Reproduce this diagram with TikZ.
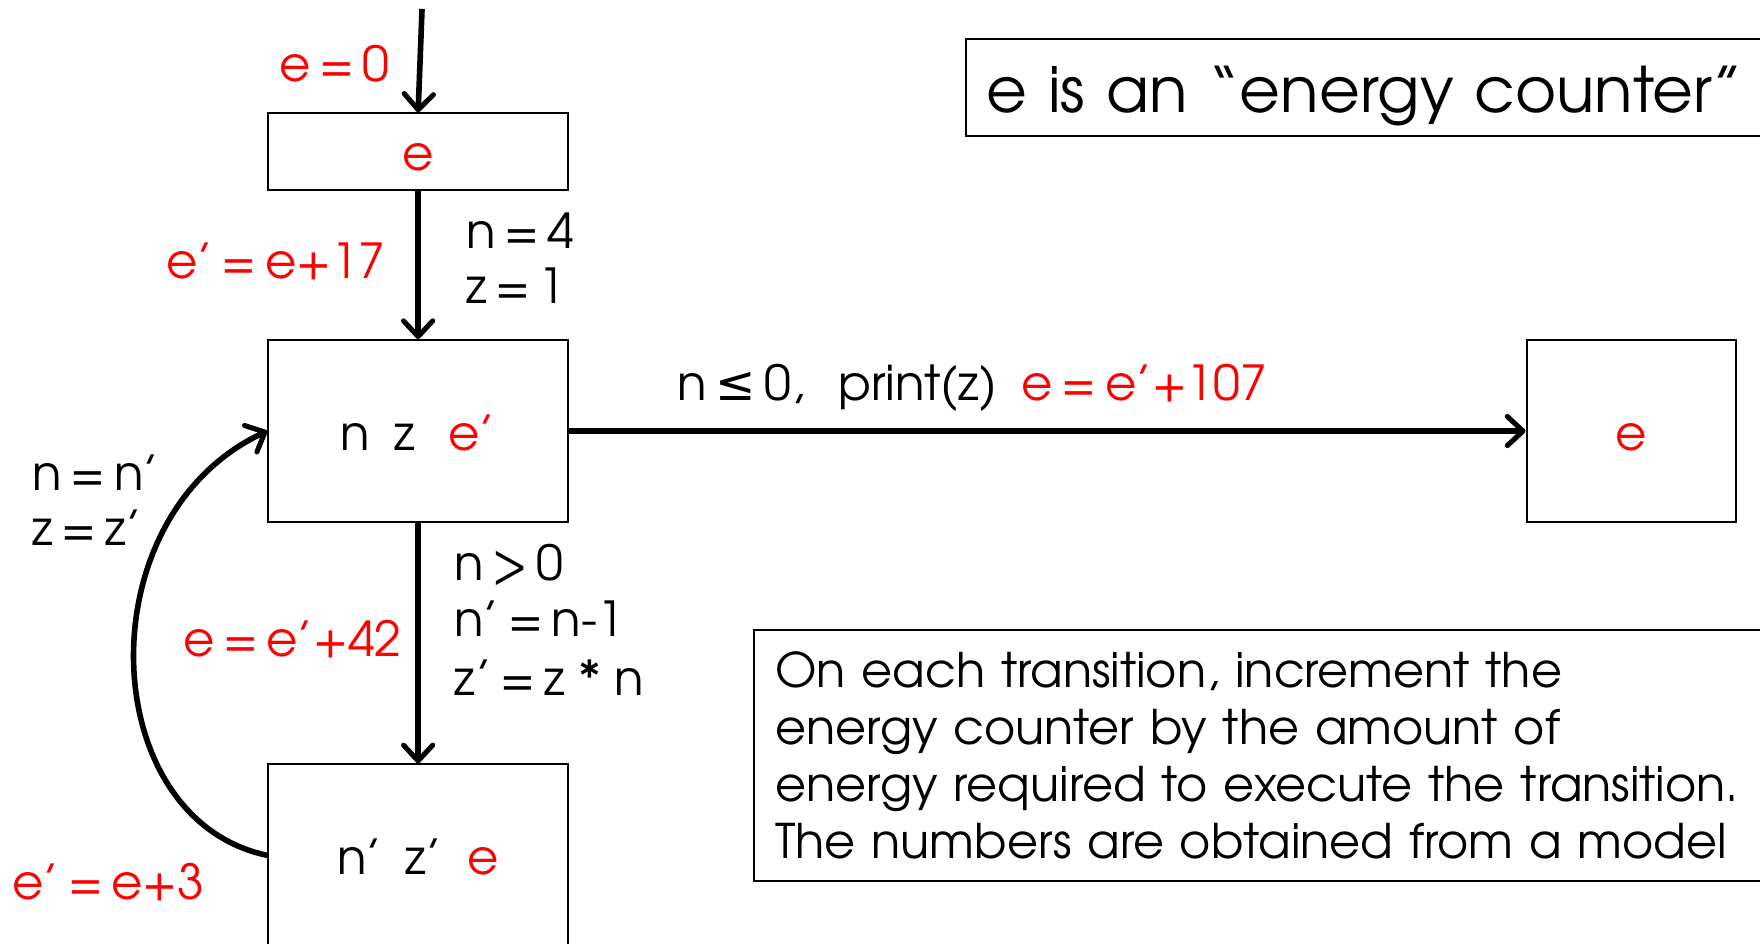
\documentclass[tikz,border=0pt]{standalone}
\usepackage{fontspec}
\setmainfont[WordSpace=0.65]{TeX Gyre Adventor}
\newfontfamily\symfont{DejaVu Sans}
\usetikzlibrary{arrows.meta}
\definecolor{ered}{RGB}{255,0,0}
\begin{document}
\begin{tikzpicture}[x=1pt,y=-1pt,
  lbl/.style={font=\fontsize{43}{51}\selectfont, inner sep=0pt},
  rlbl/.style={lbl, text=ered},
  box/.style={lbl, draw, line width=1.8pt, minimum width=267pt, text height=38pt, text depth=4pt},
  arr/.style={line width=5pt, -{Straight Barb[length=14pt,width=26pt,line width=4.5pt,round]}},
]
\useasboundingbox (0,0) rectangle (1568,841);
% states
\node[box, minimum height=68pt] (s0) at (372.5,135) {\textcolor{ered}{e}};
\node[box, minimum height=162pt] (s1) at (372.5,384) {n\hspace{22pt}z\hspace{30pt}\textcolor{ered}{e’}};
\node[box, minimum width=187pt, minimum height=162pt] (s2) at (1453.5,384) {\textcolor{ered}{e}};
\node[box, minimum height=162pt] (s3) at (372.5,762) {n’\hspace{20pt}z’\hspace{22pt}\textcolor{ered}{e}};
% notes
\node[lbl, draw, line width=1.8pt, anchor=west, font=\fontsize{56}{60}\selectfont,
      text width=700pt, align=left, inner xsep=18pt, minimum height=86pt,
      text height=50pt, text depth=6pt] (note1) at (860,78)
      {e is an “energy counter”};
\node[lbl, draw, line width=1.8pt, anchor=north west, font=\fontsize{42.5}{51}\selectfont,
      text width=870pt, align=left, inner xsep=19pt, minimum height=224pt] (note2) at (671,560)
      {On each transition, increment the\\
       energy counter by the amount of\\
       energy required to execute the transition.\\
       The numbers are obtained from a model};
% connectors
\coordinate (in) at (376,8);
\draw[arr] (in) -- (s0.north);
\draw[arr] (s0) -- (s1);
\draw[arr] (s1) -- (s2);
\draw[arr] (s1) -- (s3);
\draw[arr] (s3.west) .. controls (85,730) and (75,460) .. (s1.west);
% labels
\node[rlbl, anchor=base east] (l0) at (347,73) {e = 0};
\node[rlbl, anchor=base east] (l1) at (343,248) {e’ = e+17};
\node[lbl, anchor=base west] (g1) at (415,221) {n = 4};
\node[lbl, anchor=base west] (g2) at (415,270) {z = 1};
\node[lbl, anchor=base west] (t1) at (603,357)
  {n {\symfont ≤} 0,\hspace{30pt}print(z)\hspace{22pt}\textcolor{ered}{e = e’+107}};
\node[lbl, anchor=base west] (g3) at (405,517) {n > 0};
\node[lbl, anchor=base west] (g4) at (405,567) {n’ = n-1};
\node[lbl, anchor=base west] (g5) at (405,620) {z’ = z\hspace{5pt} * \hspace{5pt}n};
\node[rlbl, anchor=base east] (l2) at (358,585) {e = e’+42};
\node[lbl, anchor=base west] (g6) at (29,437) {n = n’};
\node[lbl, anchor=base west] (g7) at (29,486) {z = z’};
\node[rlbl, anchor=base west] (l3) at (11,801) {e’ = e+3};
\end{tikzpicture}
\end{document}
